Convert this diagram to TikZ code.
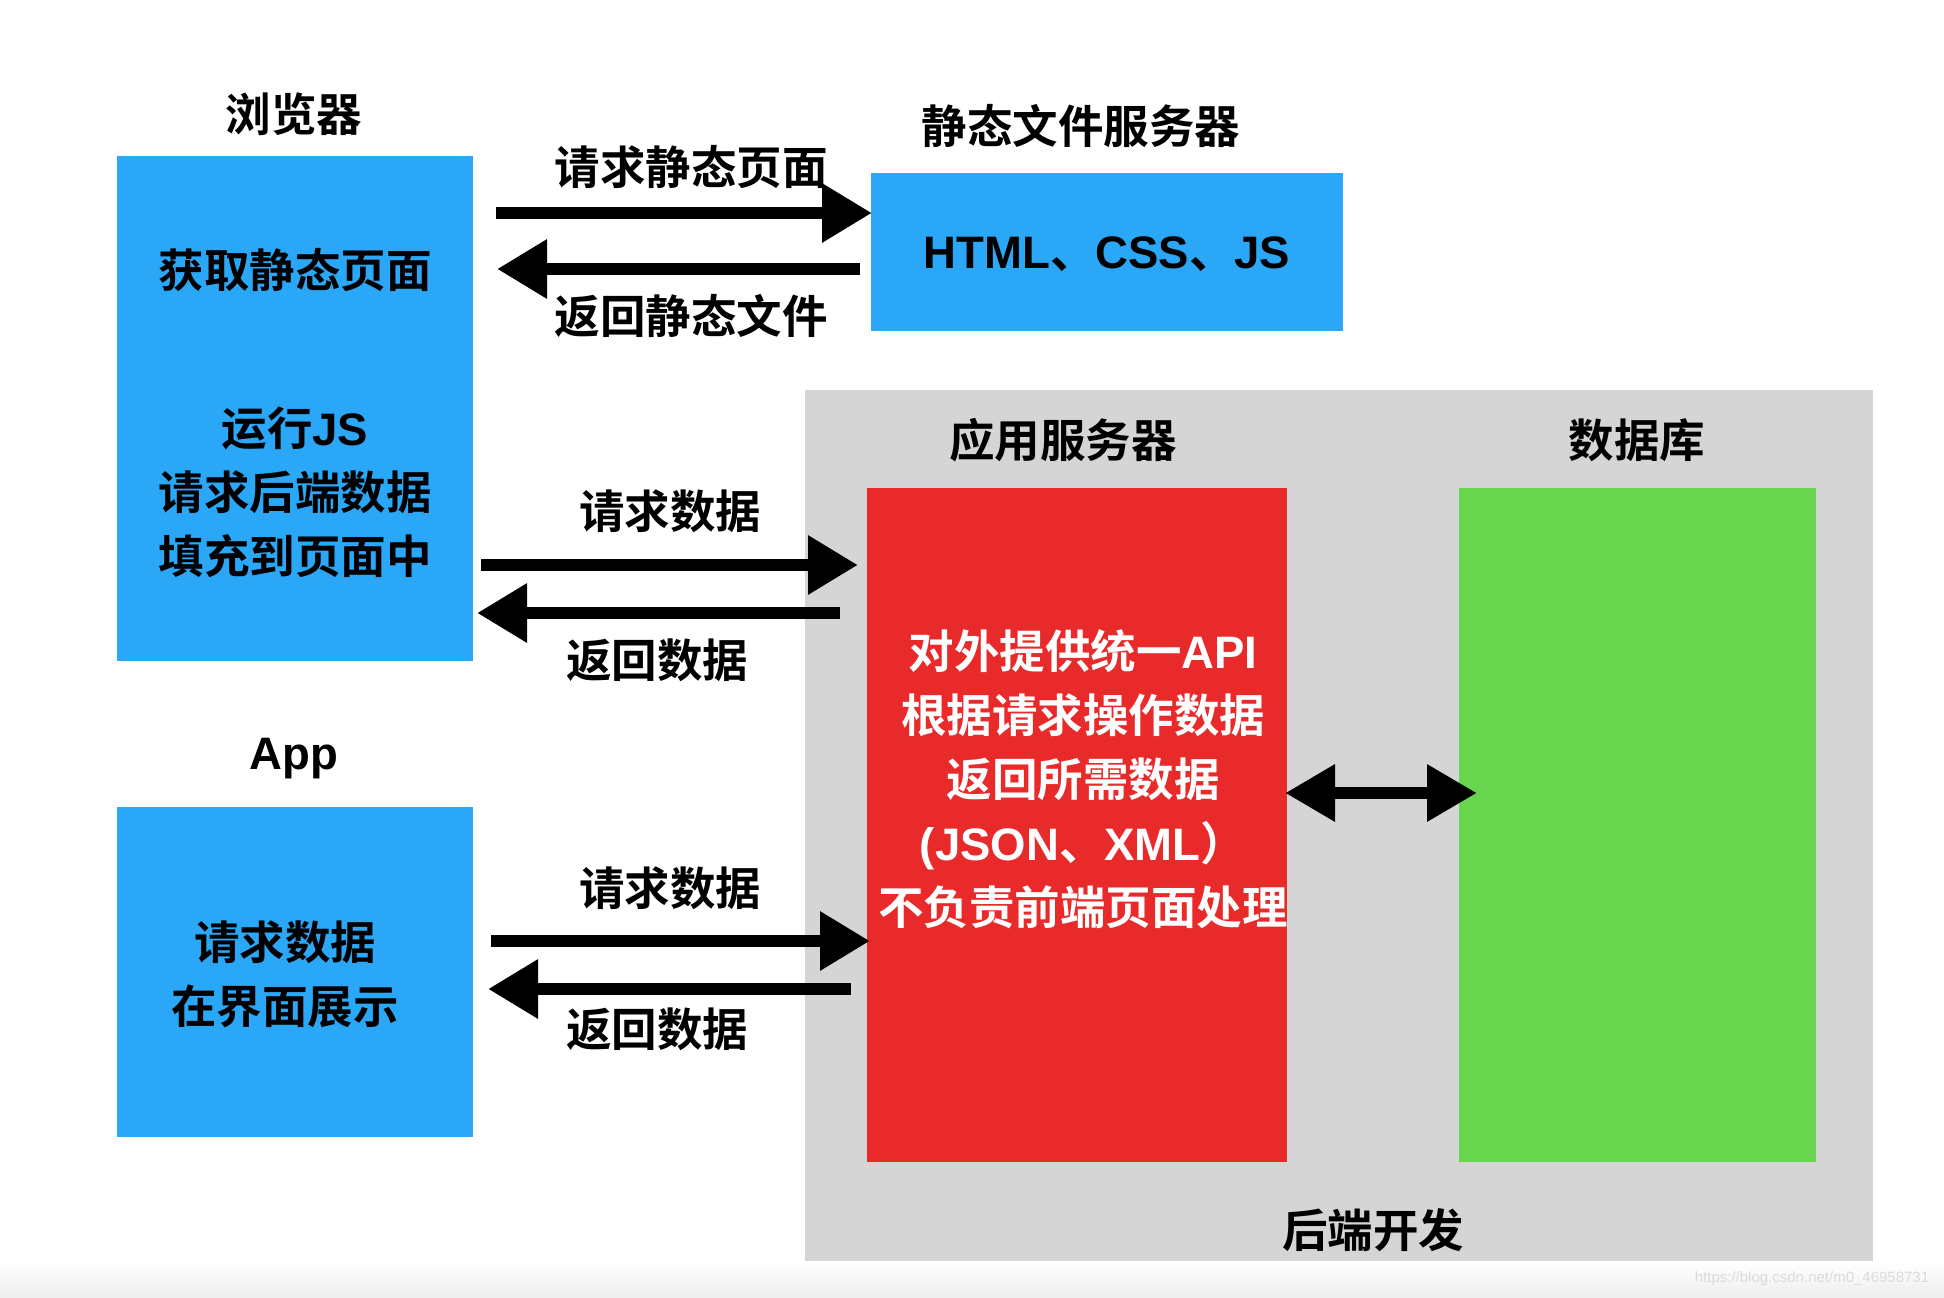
\documentclass[tikz,border=0pt]{standalone}
\usepackage{fontspec}
\setmainfont{Noto Sans CJK SC Bold}
\newfontfamily\wmfont{Liberation Sans}
\newfontfamily\latfont{Liberation Sans Bold}
\newcommand{\lat}[1]{{\latfont #1}}
\usetikzlibrary{arrows.meta}
\definecolor{boxblue}{HTML}{2BA7F8}
\definecolor{boxred}{HTML}{E92A2A}
\definecolor{boxgreen}{HTML}{68D54E}
\definecolor{bggray}{HTML}{D5D5D5}
\tikzset{
  box/.style={anchor=north west, inner sep=0pt, outer sep=0pt},
  txt/.style={inner sep=0pt, font=\fontsize{45.5}{64}\selectfont, align=center},
  bigarr/.style={line width=12.5pt, -{Triangle[length=50pt,width=56pt]}},
  dblarr/.style={line width=12.5pt, {Triangle[length=50pt,width=54pt]}-{Triangle[length=50pt,width=54pt]}}
}
\begin{document}
\begin{tikzpicture}[x=1pt,y=-1pt]
\useasboundingbox (0,0) rectangle (1944,1298);
\fill[white] (0,0) rectangle (1944,1298);
\shade[top color=white, bottom color=black!7] (0,1262) rectangle (1944,1298);
% backend area
\node[box, fill=bggray, minimum width=1068pt, minimum height=871pt] (backend) at (805,390) {};
\node[box, fill=boxred, minimum width=420pt, minimum height=674pt] (app) at (867,488) {};
\node[box, fill=boxgreen, minimum width=357pt, minimum height=674pt] (db) at (1459,488) {};
% client boxes
\node[box, fill=boxblue, minimum width=356pt, minimum height=505pt] (browser) at (117,156) {};
\node[box, fill=boxblue, minimum width=356pt, minimum height=330pt] (appc) at (117,807) {};
\node[box, fill=boxblue, minimum width=472pt, minimum height=158pt] (static) at (871,173) {};
% titles
\node[txt] (tbrowser) at (294,114) {浏览器};
\node[txt] (tstatic) at (1081,126) {静态文件服务器};
\node[txt] (tappsrv) at (1063,440) {应用服务器};
\node[txt] (tdb) at (1637,440) {数据库};
\node[txt] (tapp) at (294,759) {\lat{App}};
\node[txt] (tback) at (1373,1230) {后端开发};
% box contents
\node[txt] (sfiles) at (1107,254) {\lat{HTML}、\lat{CSS}、\lat{JS}};
\node[txt] (b1) at (295,270) {获取静态页面};
\node[txt] (b2) at (295,492) {运行\lat{JS}\\请求后端数据\\填充到页面中};
\node[txt] (a1) at (285,974) {请求数据\\在界面展示};
\node[txt, text=white] (r1) at (1083,779) {对外提供统一\lat{API}\\根据请求操作数据\\返回所需数据\\\lat{(JSON}、\lat{XML}）\\不负责前端页面处理};
% arrow labels
\node[txt] (l1) at (691,167) {请求静态页面};
\node[txt] (l2) at (691,316) {返回静态文件};
\node[txt] (l3) at (670,511) {请求数据};
\node[txt] (l4) at (657,660) {返回数据};
\node[txt] (l5) at (670,888) {请求数据};
\node[txt] (l6) at (657,1029) {返回数据};
% arrow endpoints
\coordinate (p1s) at (496,213); \coordinate (p1e) at (872,213);
\coordinate (p2s) at (860,269); \coordinate (p2e) at (497,269);
\coordinate (p3s) at (481,565); \coordinate (p3e) at (858,565);
\coordinate (p4s) at (840,613); \coordinate (p4e) at (477,613);
\coordinate (p5s) at (491,941); \coordinate (p5e) at (870,941);
\coordinate (p6s) at (851,989); \coordinate (p6e) at (488,989);
\coordinate (d1) at (1285,793); \coordinate (d2) at (1477,793);
\draw[bigarr] (p1s) -- (p1e);
\draw[bigarr] (p2s) -- (p2e);
\draw[bigarr] (p3s) -- (p3e);
\draw[bigarr] (p4s) -- (p4e);
\draw[bigarr] (p5s) -- (p5e);
\draw[bigarr] (p6s) -- (p6e);
\draw[dblarr] (d1) -- (d2);
% watermark
\node[inner sep=0pt, text=black!14, font=\wmfont\fontsize{15}{18}\selectfont] (wm) at (1812,1279) {https://blog.csdn.net/m0\_46958731};
\end{tikzpicture}
\end{document}
